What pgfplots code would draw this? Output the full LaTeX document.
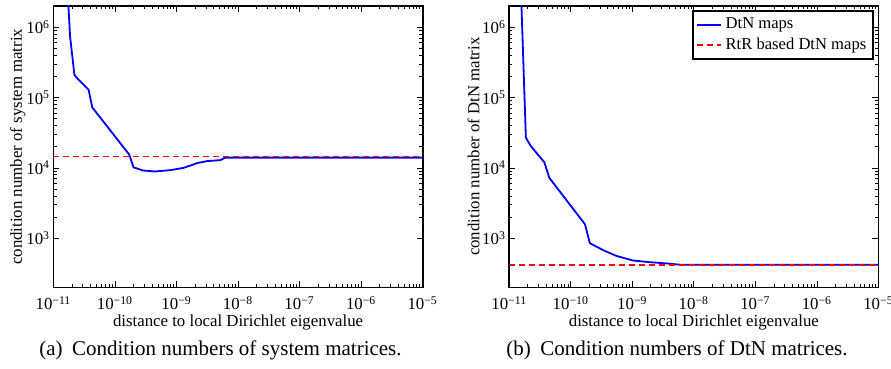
\documentclass[border=0pt]{standalone}
\usepackage{fontspec}
\setmainfont{Liberation Serif}
\usepackage{pgfplots}
\pgfplotsset{compat=1.18}
\newcommand{\tp}[1]{10\textsuperscript{#1}}
\pgfplotsset{legend image code/.code={\draw[#1] (0pt,0pt) -- (12pt,0pt);}}
\begin{document}
\begin{tikzpicture}
\begin{axis}[at={(26.75pt,40.75pt)}, anchor=south west,
  xmode=log, ymode=log, scale only axis, width=184.6pt, height=140.75pt,
  xmin=1e-11, xmax=1e-5, ymin=200, ymax=2e6,
  xtick={1e-11,1e-10,1e-9,1e-8,1e-7,1e-6,1e-5},
  xticklabels={\tp{−11},\tp{−10},\tp{−9},\tp{−8},\tp{−7},\tp{−6},\tp{−5}},
  ytick={1e3,1e4,1e5,1e6},
  yticklabels={\tp{3},\tp{4},\tp{5},\tp{6}},
  tick label style={font=\fontsize{8.4}{10}\selectfont},
  label style={font=\fontsize{8.4}{10}\selectfont},
  axis line style={line width=0.9pt},
  major tick length=3pt, minor tick length=1.6pt,
  tick style={black, line width=0.4pt},
  tick align=inside,
  xtick pos=both, ytick pos=both,
  xticklabel style={anchor=base, yshift=-11.25pt},
  yticklabel style={anchor=east, inner xsep=1.5pt},
  xlabel style={at={(axis description cs:0.5,0)}, anchor=center, yshift=-17.5pt},
  ylabel style={at={(axis description cs:-0.097,0.5)}, anchor=center},
  xlabel={distance to local Dirichlet eigenvalue},
  ylabel={condition number of system matrix}]
\addplot[blue, line width=0.9pt] coordinates {
 (1.70e-11,3.16e6) (1.86e-11,7.4e5) (2.19e-11,2.09e5) (2.51e-11,1.82e5)
 (3.72e-11,1.29e5) (4.27e-11,7.24e4) (1.70e-10,1.55e4) (2.0e-10,1.02e4)
 (2.82e-10,9.2e3) (4.47e-10,8.9e3) (7.94e-10,9.3e3) (1.29e-9,1.0e4)
 (1.78e-9,1.1e4) (2.14e-9,1.17e4) (3.16e-9,1.25e4) (5.13e-9,1.29e4)
 (6.17e-9,1.40e4) (1e-5,1.40e4)};
\addplot[red, line width=0.9pt, dash pattern=on 3pt off 2pt] coordinates {
 (1e-11,1.45e4) (1e-5,1.45e4)};
\end{axis}
\begin{axis}[at={(254.65pt,40.75pt)}, anchor=south west,
  xmode=log, ymode=log, scale only axis, width=184.6pt, height=140.75pt,
  xmin=1e-11, xmax=1e-5, ymin=200, ymax=2e6,
  xtick={1e-11,1e-10,1e-9,1e-8,1e-7,1e-6,1e-5},
  xticklabels={\tp{−11},\tp{−10},\tp{−9},\tp{−8},\tp{−7},\tp{−6},\tp{−5}},
  ytick={1e3,1e4,1e5,1e6},
  yticklabels={\tp{3},\tp{4},\tp{5},\tp{6}},
  tick label style={font=\fontsize{8.4}{10}\selectfont},
  label style={font=\fontsize{8.4}{10}\selectfont},
  axis line style={line width=0.9pt},
  major tick length=3pt, minor tick length=1.6pt,
  tick style={black, line width=0.4pt},
  tick align=inside,
  xtick pos=both, ytick pos=both,
  xticklabel style={anchor=base, yshift=-11.25pt},
  yticklabel style={anchor=east, inner xsep=1.5pt},
  xlabel style={at={(axis description cs:0.5,0)}, anchor=center, yshift=-17.5pt},
  ylabel style={at={(axis description cs:-0.097,0.5)}, anchor=center},
  xlabel={distance to local Dirichlet eigenvalue},
  ylabel={condition number of DtN matrix},
  legend style={at={(axis description cs:1,1)}, anchor=north east,
    xshift=-2.2pt, yshift=-2pt, font=\fontsize{8.3}{9.5}\selectfont,
    draw=black, line width=0.8pt, inner sep=1.5pt, row sep=-1pt},
  legend cell align=left]
\addplot[blue, line width=0.9pt] coordinates {
 (1.55e-11,3.16e6) (1.86e-11,2.69e4) (2.24e-11,2.04e4) (3.72e-11,1.2e4)
 (4.47e-11,7.24e3) (1.70e-10,1.58e3) (2.04e-10,851) (3.39e-10,676)
 (5.5e-10,562) (1.02e-9,484) (1.95e-9,457) (3.55e-9,440) (5.9e-9,422)
 (1e-5,422)};
\addlegendentry{DtN maps}
\addplot[red, line width=0.9pt, dash pattern=on 3pt off 2pt] coordinates {
 (1e-11,415) (1e-5,415)};
\addlegendentry{RtR based DtN maps}
\end{axis}
\node[font=\fontsize{10.5}{12}\selectfont] at (110.25pt,9.5pt) {(a)\hspace{0.45em}Condition numbers of system matrices.};
\node[font=\fontsize{10.5}{12}\selectfont] at (338.5pt,9.5pt) {(b)\hspace{0.45em}Condition numbers of DtN matrices.};
\pgfresetboundingbox
\path (0,0) rectangle (445.5pt,184.5pt);
\end{tikzpicture}
\end{document}
